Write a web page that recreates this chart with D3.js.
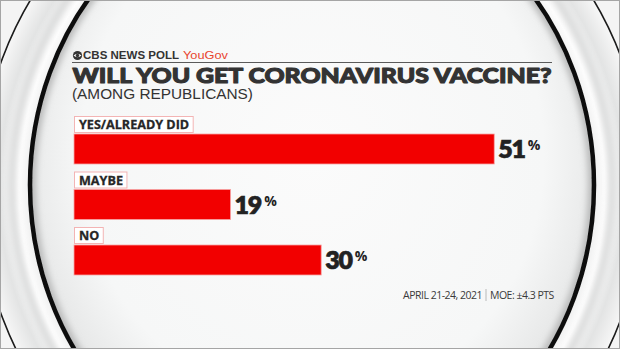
<!DOCTYPE html>
<html>
<head>
<meta charset="utf-8">
<script src="https://cdn.jsdelivr.net/npm/d3@7"></script>
<style>
  html, body { margin: 0; padding: 0; background: #fff; }
  svg { display: block; }
</style>
</head>
<body>
<div id="chart"></div>
<script>
// chart data
const categories = ['YES/ALREADY DID', 'MAYBE', 'NO'];
const values = [51, 19, 30];
const valueLabels = ['51', '19', '30'];

const pollLabel = 'CBS NEWS POLL';
const partnerLabel = 'YouGov';
const title = 'WILL YOU GET CORONAVIRUS VACCINE?';
const subtitle = '(AMONG REPUBLICANS)';
const footerDate = 'APRIL 21-24, 2021';
const footerMoe = 'MOE: \u00b14.3 PTS';

const width = 620;
const height = 349;
const red = '#f20000';
const ink = '#262626';

const svg = d3.select('#chart')
  .append('svg')
  .attr('width', width)
  .attr('height', height);

const defs = svg.append('defs');

// face of the dial: almost white, greyer toward the rim
const face = defs.append('radialGradient').attr('id', 'face')
  .attr('cx', '50%').attr('cy', '45%').attr('r', '55%');
face.append('stop').attr('offset', '0%').attr('stop-color', '#fbfbfb');
face.append('stop').attr('offset', '75%').attr('stop-color', '#f6f7f7');
face.append('stop').attr('offset', '100%').attr('stop-color', '#e2e3e3');

const bezel = defs.append('radialGradient').attr('id', 'bezel')
  .attr('cx', '50%').attr('cy', '50%').attr('r', '50%');
bezel.append('stop').attr('offset', '80%').attr('stop-color', '#d8d9d9');
bezel.append('stop').attr('offset', '88%').attr('stop-color', '#fdfdfd');
bezel.append('stop').attr('offset', '94%').attr('stop-color', '#e3e4e4');
bezel.append('stop').attr('offset', '100%').attr('stop-color', '#f7f7f7');

defs.append('filter').attr('id', 'soft')
  .append('feGaussianBlur').attr('stdDeviation', 3);
defs.append('filter').attr('id', 'softer')
  .append('feGaussianBlur').attr('stdDeviation', 0.6);

defs.append('clipPath').attr('id', 'inside')
  .append('ellipse')
  .attr('cx', 312).attr('cy', 185).attr('rx', 281).attr('ry', 304);

// backdrop and bezel rings
svg.append('rect')
  .attr('width', width).attr('height', height)
  .attr('fill', '#f4f4f4');

svg.append('ellipse')
  .attr('cx', 312).attr('cy', 188).attr('rx', 333).attr('ry', 352)
  .attr('fill', 'url(#bezel)')
  .attr('stroke', '#1a1a1a').attr('stroke-width', 1.6)
  .attr('filter', 'url(#softer)');

svg.append('ellipse')
  .attr('cx', 312).attr('cy', 186).attr('rx', 300).attr('ry', 322)
  .attr('fill', 'none')
  .attr('stroke', '#d2d3d3').attr('stroke-width', 5)
  .attr('filter', 'url(#soft)');

svg.append('ellipse')
  .attr('cx', 312).attr('cy', 185).attr('rx', 281).attr('ry', 304)
  .attr('fill', 'url(#face)');

svg.append('g')
  .attr('clip-path', 'url(#inside)')
  .append('ellipse')
  .attr('cx', 312).attr('cy', 185).attr('rx', 281).attr('ry', 304)
  .attr('fill', 'none')
  .attr('stroke', '#b9baba').attr('stroke-width', 10)
  .attr('filter', 'url(#soft)');

svg.append('ellipse')
  .attr('cx', 312).attr('cy', 185).attr('rx', 282).attr('ry', 305)
  .attr('fill', 'none')
  .attr('stroke', '#111').attr('stroke-width', 4.5)
  .attr('filter', 'url(#softer)');

// header
const header = svg.append('g');

const eye = header.append('g').attr('transform', 'translate(77.5,55.5)');
eye.append('circle').attr('r', 4.6).attr('fill', '#333');
eye.append('path')
  .attr('d', 'M-4,0 Q0,-3.6 4,0 Q0,3.6 -4,0Z')
  .attr('fill', '#fafafa');
eye.append('circle').attr('r', 1.7).attr('fill', '#333');

header.append('text')
  .attr('x', 83).attr('y', 59.3)
  .attr('textLength', 96).attr('lengthAdjust', 'spacingAndGlyphs')
  .style('font', '700 11px "Liberation Sans", Arial, sans-serif')
  .attr('fill', '#333')
  .text(pollLabel);

header.append('text')
  .attr('x', 183).attr('y', 59.3)
  .attr('textLength', 45).attr('lengthAdjust', 'spacingAndGlyphs')
  .style('font', '400 11.5px "Liberation Sans", Arial, sans-serif')
  .attr('fill', '#e8452f')
  .text(partnerLabel);

header.append('line')
  .attr('x1', 72).attr('x2', 552)
  .attr('y1', 62.5).attr('y2', 62.5)
  .attr('stroke', '#5a5a5a').attr('stroke-width', 1);

// heavy title: bold face thickened with a stroke of the same colour
header.append('text')
  .attr('x', 72.5).attr('y', 82.8)
  .attr('textLength', 479).attr('lengthAdjust', 'spacingAndGlyphs')
  .style('font', '900 21.5px Lato, "Open Sans", sans-serif')
  .attr('fill', '#333')
  .attr('stroke', '#333').attr('stroke-width', 1.1)
  .attr('stroke-linejoin', 'round')
  .text(title);

header.append('text')
  .attr('x', 72).attr('y', 99.3)
  .attr('textLength', 181).attr('lengthAdjust', 'spacingAndGlyphs')
  .style('font', '400 14.5px "Liberation Sans", Arial, sans-serif')
  .attr('fill', '#333')
  .text(subtitle);

// scales
const x = d3.scaleLinear()
  .domain([0, 100])
  .range([74, 898]);

const y = d3.scaleBand()
  .domain(categories)
  .range([116, 282.5])
  .paddingInner(0);

const rows = svg.append('g')
  .selectAll('g')
  .data(categories.map((c, i) => ({name: c, value: values[i], label: valueLabels[i]})))
  .enter()
  .append('g')
  .attr('transform', d => `translate(0,${y(d.name)})`);

// category tag: text in a thin pink box
rows.append('text')
  .attr('class', 'tag')
  .attr('x', 79).attr('y', 13.3)
  .style('font', '700 12.6px "Open Sans", sans-serif')
  .attr('fill', ink)
  .attr('stroke', ink).attr('stroke-width', 0.3)
  .text(d => d.name);

rows.each(function () {
  const g = d3.select(this);
  const box = g.select('.tag').node().getBBox();
  g.insert('rect', '.tag')
    .attr('x', 74.5).attr('y', 0.5)
    .attr('width', box.width + 8.5).attr('height', 16)
    .attr('fill', '#fff')
    .attr('stroke', '#f3b4b4').attr('stroke-width', 1);
});

rows.append('rect')
  .attr('x', x(0))
  .attr('y', 18)
  .attr('width', d => x(d.value) - x(0))
  .attr('height', 30)
  .attr('fill', red)
  .attr('stroke', '#f7a3a3').attr('stroke-width', 0.8);

const valueText = rows.append('text')
  .attr('x', d => x(d.value) + 4)
  .attr('y', 42)
  .attr('fill', '#222');

valueText.append('tspan')
  .style('font', '800 25px Lato, "Open Sans", sans-serif')
  .attr('stroke', '#222').attr('stroke-width', 0.6)
  .attr('letter-spacing', -1.2)
  .text(d => d.label);

valueText.append('tspan')
  .attr('dx', 3)
  .attr('dy', -8)
  .style('font', '700 14px "Open Sans", sans-serif')
  .text('%');

// footer
const footer = svg.append('g')
  .style('font', '400 10.5px "Open Sans", sans-serif')
  .attr('fill', '#3a3a3a');

footer.append('text')
  .attr('x', 482).attr('y', 299)
  .attr('text-anchor', 'end')
  .attr('letter-spacing', -0.5)
  .text(footerDate);

footer.append('line')
  .attr('x1', 486).attr('x2', 486)
  .attr('y1', 289).attr('y2', 301)
  .attr('stroke', '#aaa').attr('stroke-width', 0.8);

footer.append('text')
  .attr('x', 490).attr('y', 299)
  .attr('letter-spacing', -0.5)
  .text(footerMoe);

// thin grey frame around the picture
svg.append('rect')
  .attr('x', 0.5).attr('y', 0.5)
  .attr('width', width - 1).attr('height', height - 1)
  .attr('fill', 'none')
  .attr('stroke', '#a5a5a5').attr('stroke-width', 1);
</script>
</body>
</html>
